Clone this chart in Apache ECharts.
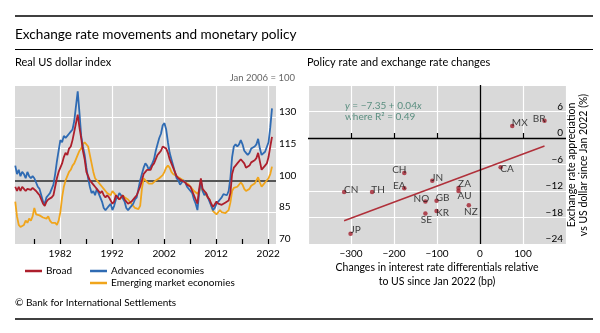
<!DOCTYPE html>
<html><head><meta charset="utf-8">
<script src="https://cdn.jsdelivr.net/npm/echarts@6/dist/echarts.min.js"></script>
<style>html,body{margin:0;padding:0;background:#fff}#c{width:600px;height:333px}</style>
</head><body><div id="c"></div>
<script>
// ---------- Left panel: Real US dollar index (Jan 2006 = 100), sampled every 4 months ----------
const startYear = 1973.4;           // first observation
const stepYears = 1 / 3;            // one observation every four months
const broad = [
  97, 95,
  97, 95, 97,   96, 95, 96,   96, 95.5, 96.5,   97, 95, 94,   93, 91, 89,
  88, 90, 91,   91, 92, 93,   97, 101, 104,   106, 108, 111,   113, 112, 115,
  116, 119, 123,   127, 131, 125,   120, 114, 110,   104, 102, 100,   100, 98, 97,
  96, 95, 94,   95, 93, 92,   93, 92, 92,   89, 90, 93,   92, 91, 92,
  93, 91, 90,   89, 89, 90,   90.5, 92, 93,   95, 97, 100,   103, 104, 105,
  105, 105, 107,   108, 110, 112,   113, 114, 116,   116, 115, 113,   110, 108, 106,
  104, 102, 101,   101, 100, 100,   99, 98, 97.5,   97, 95, 93,   91, 89, 96,
  101, 96, 95,   94, 92, 91,   89, 87.5, 88,   90, 89, 88.5,   88.5, 89, 89.5,
  89.8, 90.5, 94,   103, 106, 107,   108, 108, 110,   110, 108, 106,   105.5, 107, 108.5,
  109, 109.5, 110.5,   113, 109, 105,   106, 107, 108,   111, 116, 120.5
];
const advanced = [
  107, 103,
  105, 102, 104,   103, 101, 104,   102, 101, 102,   101, 99, 97,   96, 93, 90,
  89, 92, 93,   94, 96, 98,   103, 109, 114,   119, 118, 121,   120, 121, 122,
  123, 124, 128,   135, 142, 132,   121, 116, 112,   106, 101, 97,   94, 95, 93,
  96, 94, 92,   90, 87, 86,   87, 88, 89,   86, 88, 91,   92, 94, 93,
  93, 90, 87,   86, 86, 88,   89, 91, 92,   96, 100, 103,   106, 108, 107,
  105, 105, 108,   110, 114, 117,   120, 122, 126,   127, 124, 118,   113, 110, 107,
  104, 101, 100,   98, 99, 100,   99, 97, 97,   95, 94, 91,   89, 86, 94,
  100, 95, 93,   94, 92, 90,   88, 86, 87,   89, 90, 91,   92, 93.5, 93,
  93, 95, 101,   111, 116, 117,   116, 117, 119,   117, 114, 113,   112, 113, 115,
  115, 116, 117,   119.6, 115, 112,   112, 113.5, 114,   118, 125, 134
];
const emerging = [
  90, 83,
  79, 78, 78,   79, 81, 80,   82, 81, 83,   87, 84, 84,   83.5, 83, 82.5,
  83, 82, 83,   81, 80, 79.5,   80, 79, 81,   85, 92, 97,   100, 102, 104,
  105, 107, 108,   110, 112, 114,   115, 117, 118,   118.5, 116, 112,   108, 104, 101,
  100, 99, 98,   97, 96, 95,   94, 93.5, 93,   95, 94, 93,   92, 91, 92,
  93, 92, 92,   91, 90, 89,   88, 87, 86.5,   86.5, 88, 96,   101, 100, 99.5,
  98.5, 98, 98.5,   99, 100, 100,   101, 101.5, 102.5,   104, 106, 107,   106, 104, 103,
  103, 102, 101.5,   101, 100.5, 100,   99, 98.5, 98,   97, 96, 95,   95, 93.7, 95,
  97, 95, 95,   93, 92, 91,   88, 85.5, 85,   84, 85, 86,   85, 85, 84.5,
  84.5, 86, 89.5,   95, 96.5, 97,   97, 97.5, 99,   98, 96, 95,   94.5, 96, 97.5,
  98, 98.5, 99,   101.5, 99, 97,   98, 99, 99.5,   101, 103, 106.5
];
const years = broad.map((_, i) => startYear + i * stepYears);
const baseIndex = 100;
const tickYears = [1977, 1982, 1987, 1992, 1997, 2002, 2007, 2012, 2017, 2022];
const labelYears = [1982, 1992, 2002, 2012, 2022];

// ---------- Right panel: policy rate vs exchange rate changes ----------
const countries = ['CN','TH','JP','CH','EA','JN','NO','GB','SE','KR','ZA','AU','NZ','CA','MX','BR'];
const rateDiff  = [-316,-251,-301,-176,-176,-111,-127,-101,-127,-101,-50,-50,-26,48,75,150]; // bp
const fxChange  = [-12.2,-12.2,-21.7,-7.9,-11.4,-9.7,-14.4,-14.2,-17.1,-16.5,-11.3,-12.0,-15.2,-6.6,2.7,3.9]; // %

// label placement (style only)
const labelOffset = {
  CN:[7,-2], TH:[6,-2], JP:[5,-4], CH:[-5,-3], EA:[-5,-3], JN:[5,-3], NO:[-4,-3], GB:[6,-3],
  SE:[1,6], KR:[6,1.5], ZA:[6,-4], AU:[6,4.5], NZ:[2,6.3], CA:[6.3,1.8], MX:[7.5,-3.5], BR:[-5.3,-2]
};

// least-squares fit computed from the points
const n = rateDiff.length;
const mx = rateDiff.reduce((a,b)=>a+b,0)/n, my = fxChange.reduce((a,b)=>a+b,0)/n;
let sxy = 0, sxx = 0;
for (let i = 0; i < n; i++) { sxy += (rateDiff[i]-mx)*(fxChange[i]-my); sxx += (rateDiff[i]-mx)**2; }
const slope = sxy/sxx, intercept = my - slope*mx;
const xLo = Math.min(...rateDiff), xHi = Math.max(...rateDiff);

const FONT = 'Lato, "Open Sans", sans-serif';
const minus = v => (v < 0 ? '\u2212' + Math.abs(v) : String(v));
const RED = '#ad1f2c', BLUE = '#2f6bb3', YEL = '#f0a51c';

const chart = echarts.init(document.getElementById('c'), null, {renderer:'canvas', width:600, height:333});
chart.setOption({
  animation: false,
  textStyle: {fontFamily: FONT},
  title: [
    {text:'Exchange rate movements and monetary policy', left:15, top:27.5, padding:0,
     textStyle:{fontSize:13.6, fontWeight:'normal', color:'#000', fontFamily:FONT}},
    {text:'Real US dollar index', left:15, top:57, padding:0,
     textStyle:{fontSize:11, fontWeight:'normal', color:'#000', fontFamily:FONT}},
    {text:'Policy rate and exchange rate changes', left:307, top:57, padding:0,
     textStyle:{fontSize:11, fontWeight:'normal', color:'#000', fontFamily:FONT}},
    {text:'Jan 2006 = 100', right:305, top:73, padding:0,
     textStyle:{fontSize:9.5, fontWeight:'normal', color:'#666', fontFamily:FONT}},
    {text:'\u00A9 Bank for International Settlements', left:15, top:298, padding:0,
     textStyle:{fontSize:10, fontWeight:'normal', color:'#000', fontFamily:FONT}}
  ],
  graphic: [
    {type:'line', shape:{x1:15, y1:16, x2:593, y2:16}, style:{stroke:'#000', lineWidth:1.3}},
    {type:'line', shape:{x1:15, y1:49.5, x2:593, y2:49.5}, style:{stroke:'#000', lineWidth:1.2}},
    {type:'line', shape:{x1:15, y1:319, x2:593, y2:319}, style:{stroke:'#000', lineWidth:1.5}},
    {type:'text', left:345, top:100, style:{
      text:'{i|y} = \u22127.35 + 0.04{i|x}\nwhere R\u00B2 = 0.49', fill:'#5b8f80', font:'10px ' + FONT,
      lineHeight:11,
      rich:{i:{fontStyle:'italic', fill:'#5b8f80', fontSize:10, fontFamily:FONT}}}},
    {type:'text', x:578, y:165, rotation:Math.PI/2, style:{
      text:'Exchange rate appreciation\nvs US dollar since Jan 2022 (%)', fill:'#000',
      font:'10.5px ' + FONT, lineHeight:12, align:'center', verticalAlign:'middle'}}
  ],
  legend: [
    {left:25, top:266, itemWidth:17, itemHeight:2.5, itemGap:18, icon:'rect', padding:0,
     textStyle:{fontSize:10, color:'#000', fontFamily:FONT, padding:[0,0,0,-1]},
     data:['Broad','Advanced economies']},
    {left:90, top:278, itemWidth:17, itemHeight:2.5, icon:'rect', padding:0,
     textStyle:{fontSize:10, color:'#000', fontFamily:FONT, padding:[0,0,0,-1]},
     data:['Emerging market economies']}
  ],
  grid: [
    {left:15, top:85, width:261, height:159, show:true, backgroundColor:'#d9d9d9', borderWidth:0},
    {left:308, top:85, width:258, height:159, show:true, backgroundColor:'#d9d9d9', borderWidth:0}
  ],
  xAxis: [
    {gridIndex:0, type:'value', min:1973.35, max:2023.5,
     axisLine:{show:false},
     axisTick:{show:true, inside:true, length:5, customValues:tickYears, lineStyle:{color:'#000', width:1.2}},
     axisLabel:{customValues:labelYears, color:'#000', fontSize:10, margin:5, formatter:v=>String(Math.round(v))},
     splitLine:{show:false}},
    {gridIndex:0, type:'value', min:1973.35, max:2023.5, position:'bottom',
     axisLine:{show:false}, axisTick:{show:false, customValues:labelYears}, axisLabel:{show:false},
     splitLine:{show:true, lineStyle:{color:'#fff', width:1.2}}},
    {gridIndex:1, type:'value', min:-400, max:200, interval:100,
     axisLine:{show:false},
     axisTick:{show:true, inside:true, length:5, lineStyle:{color:'#000', width:1.2}},
     axisLabel:{showMinLabel:false, showMaxLabel:false, color:'#000', fontSize:10, margin:5, formatter:minus},
     splitLine:{show:true, lineStyle:{color:'#fff', width:1.2}},
     name:'Changes in interest rate differentials relative\nto US since Jan 2022 (bp)',
     nameLocation:'middle', nameGap:17,
     nameTextStyle:{fontSize:10.5, lineHeight:14, color:'#000', fontFamily:FONT}}
  ],
  yAxis: [
    {gridIndex:0, type:'value', position:'right', min:70, max:145, interval:15,
     axisLine:{show:false}, axisTick:{show:false},
     axisLabel:{showMaxLabel:false, verticalAlign:'bottom', margin:3, color:'#000', fontSize:10},
     splitLine:{show:true, lineStyle:{color:'#fff', width:1.2}}},
    {gridIndex:1, type:'value', position:'right', min:-24, max:12, interval:6,
     axisLine:{show:false}, axisTick:{show:false},
     axisLabel:{inside:true, showMaxLabel:false, verticalAlign:'bottom', margin:3, color:'#000', fontSize:10, formatter:minus},
     splitLine:{show:true, lineStyle:{color:'#fff', width:1.2}}}
  ],
  series: [
    {type:'line', name:'Emerging market economies', xAxisIndex:0, yAxisIndex:0, z:3,
     data:years.map((x,i)=>[x, emerging[i]]), showSymbol:false, color:YEL, lineStyle:{width:1.8, color:YEL},
     markLine:{silent:true, symbol:'none', z:1, label:{show:false},
       lineStyle:{color:'#555', width:2.2, type:'solid'}, data:[{yAxis:baseIndex}]}},
    {type:'line', name:'Advanced economies', xAxisIndex:0, yAxisIndex:0, z:4,
     data:years.map((x,i)=>[x, advanced[i]]), showSymbol:false, color:BLUE, lineStyle:{width:1.8, color:BLUE}},
    {type:'line', name:'Broad', xAxisIndex:0, yAxisIndex:0, z:5,
     data:years.map((x,i)=>[x, broad[i]]), showSymbol:false, color:RED, lineStyle:{width:1.8, color:RED}},
    {type:'line', name:'fit', xAxisIndex:2, yAxisIndex:1, z:3, showSymbol:false,
     data:[[xLo, intercept+slope*xLo],[xHi, intercept+slope*xHi]], lineStyle:{color:'#b0303a', width:1.5},
     markLine:{silent:true, symbol:'none', label:{show:false}, lineStyle:{color:'#000', width:1.3, type:'solid'},
       data:[{xAxis:0},{yAxis:0}]}},
    {type:'scatter', name:'countries', xAxisIndex:2, yAxisIndex:1, z:4, symbolSize:4.5,
     itemStyle:{color:'#a3202e'},
     data:countries.map((c,i)=>({name:c, value:[rateDiff[i], fxChange[i]],
       label:{show:true, position:'inside', offset:labelOffset[c], formatter:'{b}', color:'#111', fontSize:10, fontFamily:FONT}}))}
  ]
});
</script></body></html>
